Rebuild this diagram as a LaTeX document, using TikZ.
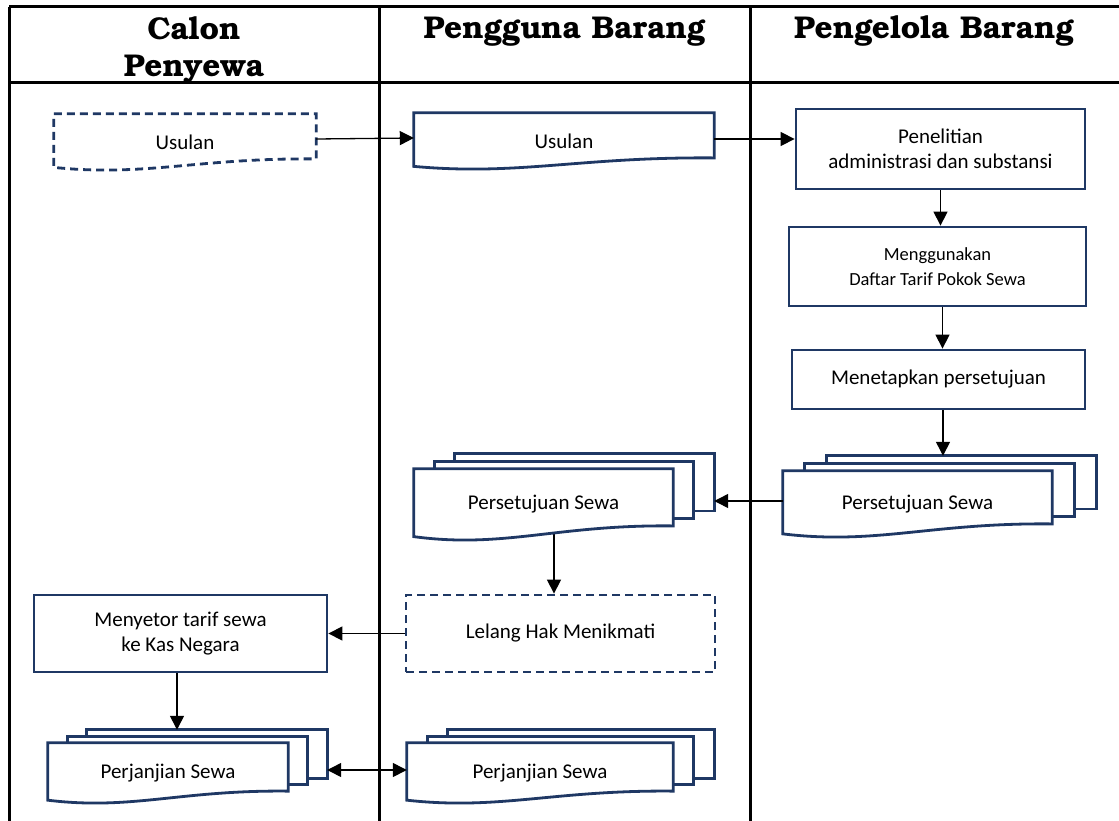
\documentclass[tikz,border=0pt]{standalone}
\usepackage{fontspec}
\setmainfont{Carlito}
\newfontfamily\headfont{TeX Gyre Bonum}
\usetikzlibrary{arrows.meta,calc}
\definecolor{navy}{RGB}{31,56,100}
\pgfdeclarelayer{behind}
\pgfdeclarelayer{shapes}
\pgfsetlayers{behind,shapes,main}
\newcommand\bodytext{\fontsize{21}{25.5}\selectfont}
\newcommand\smalltext{\fontsize{18.5}{24.5}\selectfont}
\newcommand\headtext{\headfont\bfseries\fontsize{31.5}{37}\selectfont}
\tikzset{
  frame/.style={line width=3pt,black},
  box/.style={draw=navy,line width=2.8pt,fill=white,inner sep=0pt,align=center,font=\bodytext},
  dashbox/.style={box,dash pattern=on 8pt off 5pt},
  doctext/.style={inner sep=0pt,align=center,font=\bodytext},
  docline/.style={draw=navy,line width=2.8pt,fill=white,line join=miter},
  head/.style={inner sep=0pt,align=center,font=\headtext},
  tip/.tip={Triangle[length=14pt,width=14pt]},
  conn/.style={line width=1.3pt,-tip},
  dconn/.style={line width=1.3pt,tip-tip}
}
% document outline with a wavy lower edge, drawn from the corners of node #1
\newcommand\docshape[2]{%
  \path[docline,#2] let \p1=(#1.north west), \p2=(#1.south east) in
    (\x1,\y1) -- (\x2,\y1) -- (\x2,{\y1+0.8*(\y2-\y1)})
    .. controls ({\x1+0.55*(\x2-\x1)},{\y1+0.78*(\y2-\y1)})
       and ({\x1+0.35*(\x2-\x1)},{\y1+1.12*(\y2-\y1)})
    .. (\x1,{\y1+0.95*(\y2-\y1)}) -- cycle;}
% stacked documents: two sheets behind the front one, offset by (#2,#3)
\newcommand\multidoc[3]{%
  \path[docline] let \p1=(#1.north west), \p2=(#1.south east) in
    ({\x1+2*#2pt},{\y1+2*#3pt}) rectangle ({\x2+2*#2pt},{\y1+0.8*(\y2-\y1)+2*#3pt})
    ({0.5*(\x1+\x2)+2*#2pt},{\y1+2*#3pt}) coordinate (#1-bn)
    ({\x2+2*#2pt},{\y1+0.4*(\y2-\y1)+2*#3pt}) coordinate (#1-be);
  \path[docline] let \p1=(#1.north west), \p2=(#1.south east) in
    ({\x1+#2pt},{\y1+#3pt}) rectangle ({\x2+#2pt},{\y1+0.8*(\y2-\y1)+#3pt});
  \docshape{#1}{}}
\begin{document}
\begin{tikzpicture}[x=1pt,y=-1pt]
\begin{pgfonlayer}{behind}
  \fill[white] (0,0) rectangle (1119,821);
\end{pgfonlayer}
\useasboundingbox (0,0) rectangle (1119,821);

% swimlane frame
\draw[frame] (9,7) -- (1119,7);
\draw[frame] (9,83) -- (1119,83);
\draw[frame] (9,7) -- (9,821);
\draw[frame] (379,7) -- (379,821);
\draw[frame] (750,7) -- (750,821);

% lane titles
\node[head] (hcalon) at (194,50) {Calon\\Penyewa};
\node[head,anchor=base] (hguna) at (564.5,39) {Pengguna Barang};
\node[head,anchor=base] (hkelola) at (934,39) {Pengelola Barang};

% process boxes
\node[box,minimum width=289pt,minimum height=80pt] (pen) at (940.5,149) {Penelitian\\administrasi dan substansi};
\node[box,font=\smalltext,minimum width=297pt,minimum height=79pt] (dtp) at (937.5,266.5) {Menggunakan\\Daftar Tarif Pokok Sewa};
\node[box,minimum width=293pt,minimum height=59pt] (mp) at (938.5,379.5) {Menetapkan persetujuan};
\node[dashbox,minimum width=309pt,minimum height=77pt] (lhm) at (560.5,633.5) {Lelang Hak Menikmati};
\node[box,minimum width=293pt,minimum height=77pt] (mts) at (180.5,633.5) {Menyetor tarif sewa\\ke Kas Negara};

% document texts
\node[doctext,minimum width=262pt,minimum height=56pt] (cu) at (185,142) {Usulan};
\node[doctext,minimum width=300pt,minimum height=56pt] (pu) at (564,141) {Usulan};
\node[doctext,minimum width=269pt,minimum height=66pt] (ps2) at (917.5,504) {Persetujuan Sewa};
\node[doctext,minimum width=259pt,minimum height=71pt] (ps1) at (543.5,504.5) {Persetujuan Sewa};
\node[doctext,minimum width=240pt,minimum height=60pt] (pjc) at (168,773) {Perjanjian Sewa};
\node[doctext,minimum width=266pt,minimum height=60pt] (pjg) at (540,773) {Perjanjian Sewa};

% document outlines
\begin{pgfonlayer}{shapes}
  \docshape{cu}{dash pattern=on 8pt off 5pt}
  \docshape{pu}{}
  \multidoc{ps2}{22}{7.5}
  \multidoc{ps1}{20.5}{7.5}
  \multidoc{pjc}{19.5}{6.5}
  \multidoc{pjg}{20.5}{6.5}
\end{pgfonlayer}

% connectors
\draw[conn] ([yshift=3pt]cu.east) -- ([yshift=3pt]pu.west);
\draw[conn] ([yshift=2pt]pu.east) -- ([yshift=2pt]pu.east -| pen.west);
\draw[conn] (pen.south) -- (pen.south |- dtp.north);
\draw[conn] ([xshift=5pt]dtp.south) -- ([xshift=5pt]dtp.south |- mp.north);
\draw[conn] ([xshift=4.5pt]mp.south) -- ([xshift=4.5pt]mp.south |- ps2-bn);
\draw[conn] ([yshift=3pt]ps2.west) -- ([yshift=3pt]ps2.west -| ps1-be);
\begin{pgfonlayer}{behind}
  \draw[conn] ([xshift=10.5pt]ps1.center) -- ([xshift=10.5pt]ps1.center |- lhm.north);
\end{pgfonlayer}
\draw[conn] (lhm.west) -- (lhm.west -| mts.east);
\draw[conn] ([xshift=-3.5pt]mts.south) -- ([xshift=-3.5pt]mts.south |- pjc-bn);
\draw[dconn] ([yshift=3pt]pjg.west) -- ([yshift=3pt]pjg.west -| pjc-be);
\end{tikzpicture}
\end{document}
